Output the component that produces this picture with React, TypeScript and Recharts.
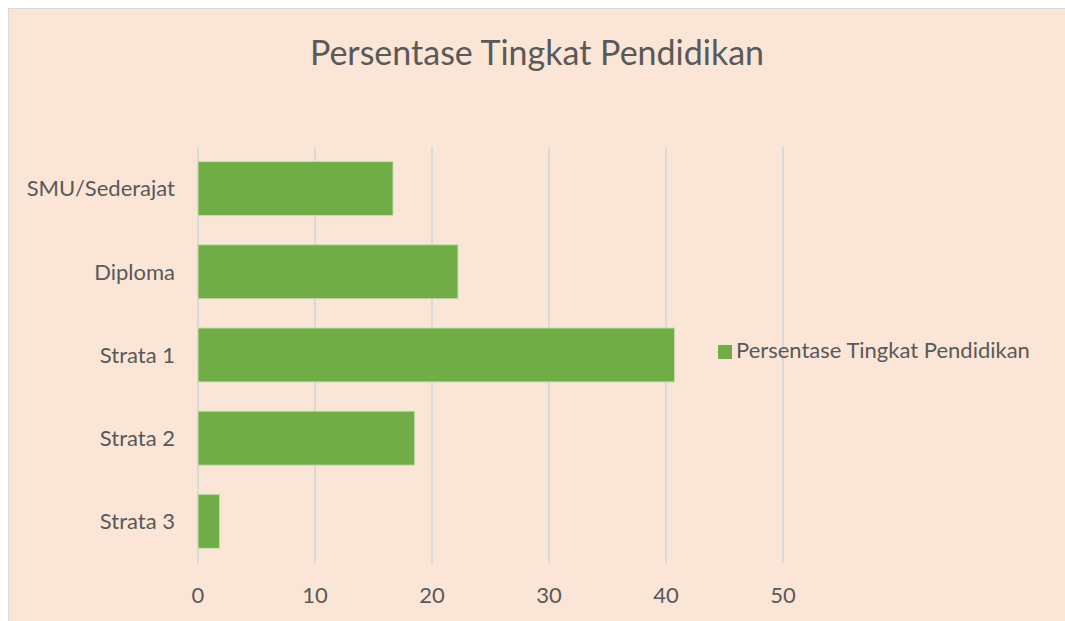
import { BarChart, Bar, XAxis, YAxis, CartesianGrid, Legend } from "recharts";

const categories = ["SMU/Sederajat", "Diploma", "Strata 1", "Strata 2", "Strata 3"];
const persentase = [16.67, 22.22, 40.74, 18.52, 1.85];
const xTicks = [0, 10, 20, 30, 40, 50];

const seriesName = "Persentase Tingkat Pendidikan";

const data = categories.map((kategori, i) => ({
  kategori,
  persentase: persentase[i],
}));

const textColor = "#595959";
const font = "Lato, 'Open Sans', sans-serif";

export default function App() {
  return (
    <div
      style={{
        position: "fixed",
        top: 8,
        left: 8,
        width: 1057,
        height: 613,
        background: "#FBE5D6",
        borderTop: "1px solid #d9d9d9",
        borderLeft: "1px solid #d9d9d9",
        boxSizing: "border-box",
        fontFamily: font,
        overflow: "hidden",
      }}
    >
      <style>{"html,body{overflow:hidden}"}</style>
      <div
        style={{
          position: "absolute",
          top: 25,
          left: 0,
          width: "100%",
          textAlign: "center",
          fontSize: 34,
          lineHeight: "36px",
          color: textColor,
        }}
      >
        Persentase Tingkat Pendidikan
      </div>
      <BarChart
        width={1056}
        height={612}
        data={data}
        layout="vertical"
        margin={{ top: 138, right: 282, bottom: 2, left: 0 }}
        barCategoryGap="17.5%"
        style={{ position: "absolute", top: 0, left: 0 }}
      >
        <CartesianGrid horizontal={false} stroke="#d9d9d9" strokeWidth={2} />
        <XAxis
          type="number"
          domain={[0, 50]}
          ticks={xTicks}
          axisLine={false}
          tickLine={false}
          tickSize={0}
          tickMargin={24}
          tick={{ fill: textColor, fontSize: 22, fontFamily: font }}
          height={56}
        />
        <YAxis
          type="category"
          dataKey="kategori"
          width={189}
          axisLine={false}
          tickLine={false}
          tickSize={0}
          tickMargin={23}
          tick={{ fill: textColor, fontSize: 22, fontFamily: font }}
        />
        <Legend
          layout="vertical"
          align="center"
          verticalAlign="middle"
          iconType="square"
          iconSize={14}
          wrapperStyle={{ left: 709, top: 327, width: 345, fontSize: 22 }}
          formatter={(value) => <span style={{ color: textColor }}>{value}</span>}
        />
        <Bar
          dataKey="persentase"
          name={seriesName}
          fill="#70AD47"
          stroke="#c5e0b3"
          strokeWidth={1}
          isAnimationActive={false}
        />
      </BarChart>
    </div>
  );
}
